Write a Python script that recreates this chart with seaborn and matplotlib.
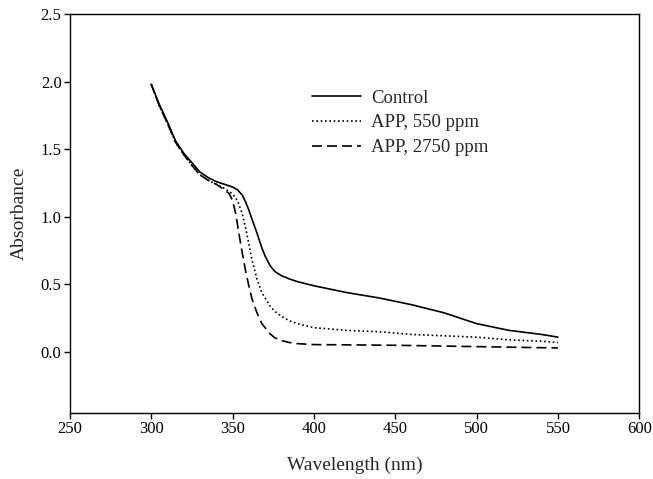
import matplotlib
matplotlib.use("Agg")
import matplotlib.pyplot as plt
import seaborn as sns
import pandas as pd

wl_control = [300, 305, 310, 315, 320, 325, 330, 335, 340, 345, 350, 353, 356, 358, 360, 362, 365, 368, 370, 373, 376, 380, 385, 390, 400, 420, 440, 460, 480, 500, 520, 540, 550]
abs_control = [1.98, 1.83, 1.70, 1.56, 1.47, 1.40, 1.33, 1.29, 1.26, 1.24, 1.22, 1.20, 1.16, 1.11, 1.05, 0.98, 0.88, 0.77, 0.71, 0.64, 0.595, 0.565, 0.54, 0.52, 0.49, 0.44, 0.40, 0.35, 0.29, 0.21, 0.16, 0.13, 0.11]

wl_550 = [300, 305, 310, 315, 320, 325, 330, 335, 340, 345, 350, 353, 356, 358, 360, 362, 365, 368, 370, 373, 376, 380, 385, 390, 400, 420, 440, 460, 480, 500, 520, 540, 550]
abs_550 = [1.98, 1.82, 1.69, 1.55, 1.46, 1.38, 1.31, 1.27, 1.24, 1.21, 1.17, 1.12, 1.02, 0.92, 0.80, 0.68, 0.54, 0.44, 0.40, 0.34, 0.30, 0.265, 0.23, 0.21, 0.18, 0.16, 0.15, 0.13, 0.12, 0.11, 0.09, 0.08, 0.07]

wl_2750 = [300, 305, 310, 315, 320, 325, 330, 335, 340, 345, 348, 350, 352, 354, 356, 358, 360, 362, 365, 368, 370, 373, 376, 380, 385, 390, 400, 450, 500, 550]
abs_2750 = [1.98, 1.82, 1.69, 1.55, 1.46, 1.38, 1.31, 1.27, 1.24, 1.20, 1.17, 1.12, 1.02, 0.87, 0.73, 0.60, 0.49, 0.39, 0.29, 0.21, 0.18, 0.135, 0.105, 0.085, 0.07, 0.062, 0.055, 0.05, 0.04, 0.03]

labels = ["Control", "APP, 550 ppm", "APP, 2750 ppm"]
x_ticks = [250, 300, 350, 400, 450, 500, 550, 600]
y_ticks = [0.0, 0.5, 1.0, 1.5, 2.0, 2.5]

sns.set_style("ticks")
plt.rcParams['font.family'] = ['Liberation Serif', 'DejaVu Serif']

fig = plt.figure(figsize=(6.53, 4.79), dpi=100)
ax = fig.add_axes([0.107, 0.138, 0.872, 0.833])

series = [(wl_control, abs_control, '-'),
          (wl_550, abs_550, (0, (1, 1.6))),
          (wl_2750, abs_2750, (0, (6, 3)))]
for (x, y, ls), lab in zip(series, labels):
    df = pd.DataFrame({"Wavelength": x, "Absorbance": y})
    sns.lineplot(data=df, x="Wavelength", y="Absorbance", ax=ax, color="black",
                 linewidth=1.2, linestyle=ls, label=lab)

ax.set_xlim(250, 600)
ax.set_ylim(-0.45, 2.5)
ax.set_xticks(x_ticks)
ax.set_xticklabels([str(v) for v in x_ticks])
ax.set_yticks(y_ticks)
ax.set_yticklabels([f"{v:.1f}" for v in y_ticks])
ax.tick_params(axis='both', labelsize=12, direction='out', length=4, width=1,
               colors='black', pad=2)
for s in ax.spines.values():
    s.set_visible(True)
    s.set_color('black')
    s.set_linewidth(1)
ax.set_xlabel("Wavelength (nm)", fontsize=14, labelpad=14)
ax.set_ylabel("Absorbance", fontsize=14, labelpad=9)

leg = ax.legend(loc='upper left', bbox_to_anchor=(0.425, 0.81), frameon=False,
                fontsize=13.5, handlelength=2.6, handletextpad=0.55, labelspacing=0.4,
                borderaxespad=0, borderpad=0)

fig.savefig("out.png", dpi=100)
